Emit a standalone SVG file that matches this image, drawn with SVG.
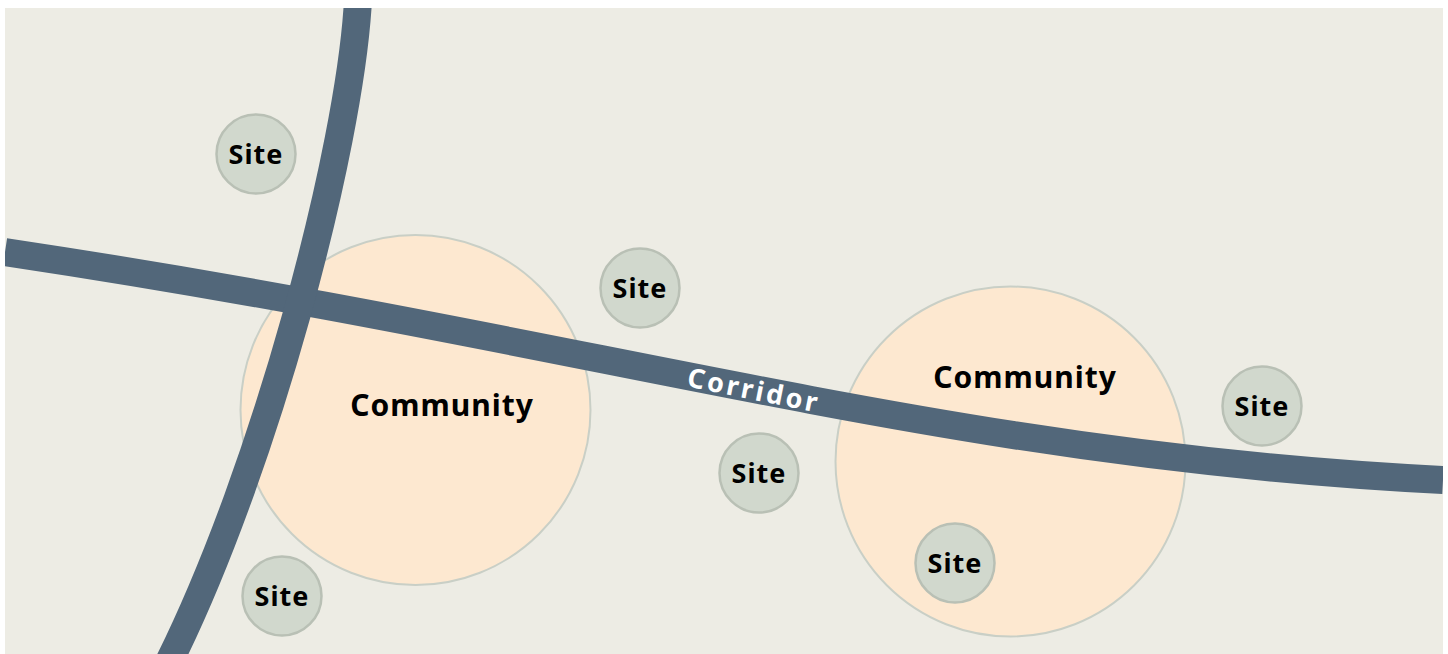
<svg xmlns="http://www.w3.org/2000/svg" width="1448" height="654" viewBox="0 0 1448 654">
  <defs>
    <clipPath id="bgclip"><rect x="5" y="8" width="1438" height="646"/></clipPath>
    <style>
      .community { fill: #FDE8D0; stroke: #C9CFC6; stroke-width: 2; }
      .site { fill: #D1D8CD; stroke: #B9C0B5; stroke-width: 2.5; }
      .road { fill: none; stroke: #52677A; stroke-width: 28; }
      .lbl { font-family: "Noto Sans", "Liberation Sans", sans-serif; font-weight: bold; fill: #000; text-anchor: middle; }
      .site-lbl { font-size: 27px; letter-spacing: 1px; }
      .com-lbl { font-size: 30px; letter-spacing: 1px; }
      .corr-lbl { font-family: "Noto Sans", "Liberation Sans", sans-serif; font-weight: bold; fill: #fff; text-anchor: middle; font-size: 27px; letter-spacing: 2.8px; }
    </style>
  </defs>
  <rect x="0" y="0" width="1448" height="654" fill="#ffffff"/>
  <rect x="5" y="8" width="1438" height="646" fill="#EDECE4"/>
  <g id="community-1"><circle class="community" cx="415.5" cy="410" r="175"/></g>
  <g id="community-2"><circle class="community" cx="1010.5" cy="461.5" r="175"/></g>
  <g id="connectors" clip-path="url(#bgclip)">
    <path id="corridor" class="road" d="M5,252 C605,342 941,455 1443,480"/>
    <path id="cross-road" class="road" d="M358,0 C350,150 265,470 168,664"/>
    <text class="corr-lbl" transform="translate(752,399.5) rotate(11.3)">Corridor</text>
  </g>
  <g id="community-1-label"><text class="lbl com-lbl" x="442" y="416">Community</text></g>
  <g id="community-2-label"><text class="lbl com-lbl" x="1025" y="388">Community</text></g>
  <g id="site-1"><circle class="site" cx="256" cy="154" r="39.5"/><text class="lbl site-lbl" x="256" y="163.5">Site</text></g>
  <g id="site-2"><circle class="site" cx="640" cy="288" r="39.5"/><text class="lbl site-lbl" x="640" y="297.5">Site</text></g>
  <g id="site-3"><circle class="site" cx="1262" cy="406" r="39.5"/><text class="lbl site-lbl" x="1262" y="415.5">Site</text></g>
  <g id="site-4"><circle class="site" cx="759" cy="473" r="39.5"/><text class="lbl site-lbl" x="759" y="482.5">Site</text></g>
  <g id="site-5"><circle class="site" cx="955" cy="563" r="39.5"/><text class="lbl site-lbl" x="955" y="572.5">Site</text></g>
  <g id="site-6"><circle class="site" cx="282" cy="596" r="39.5"/><text class="lbl site-lbl" x="282" y="605.5">Site</text></g>
</svg>
